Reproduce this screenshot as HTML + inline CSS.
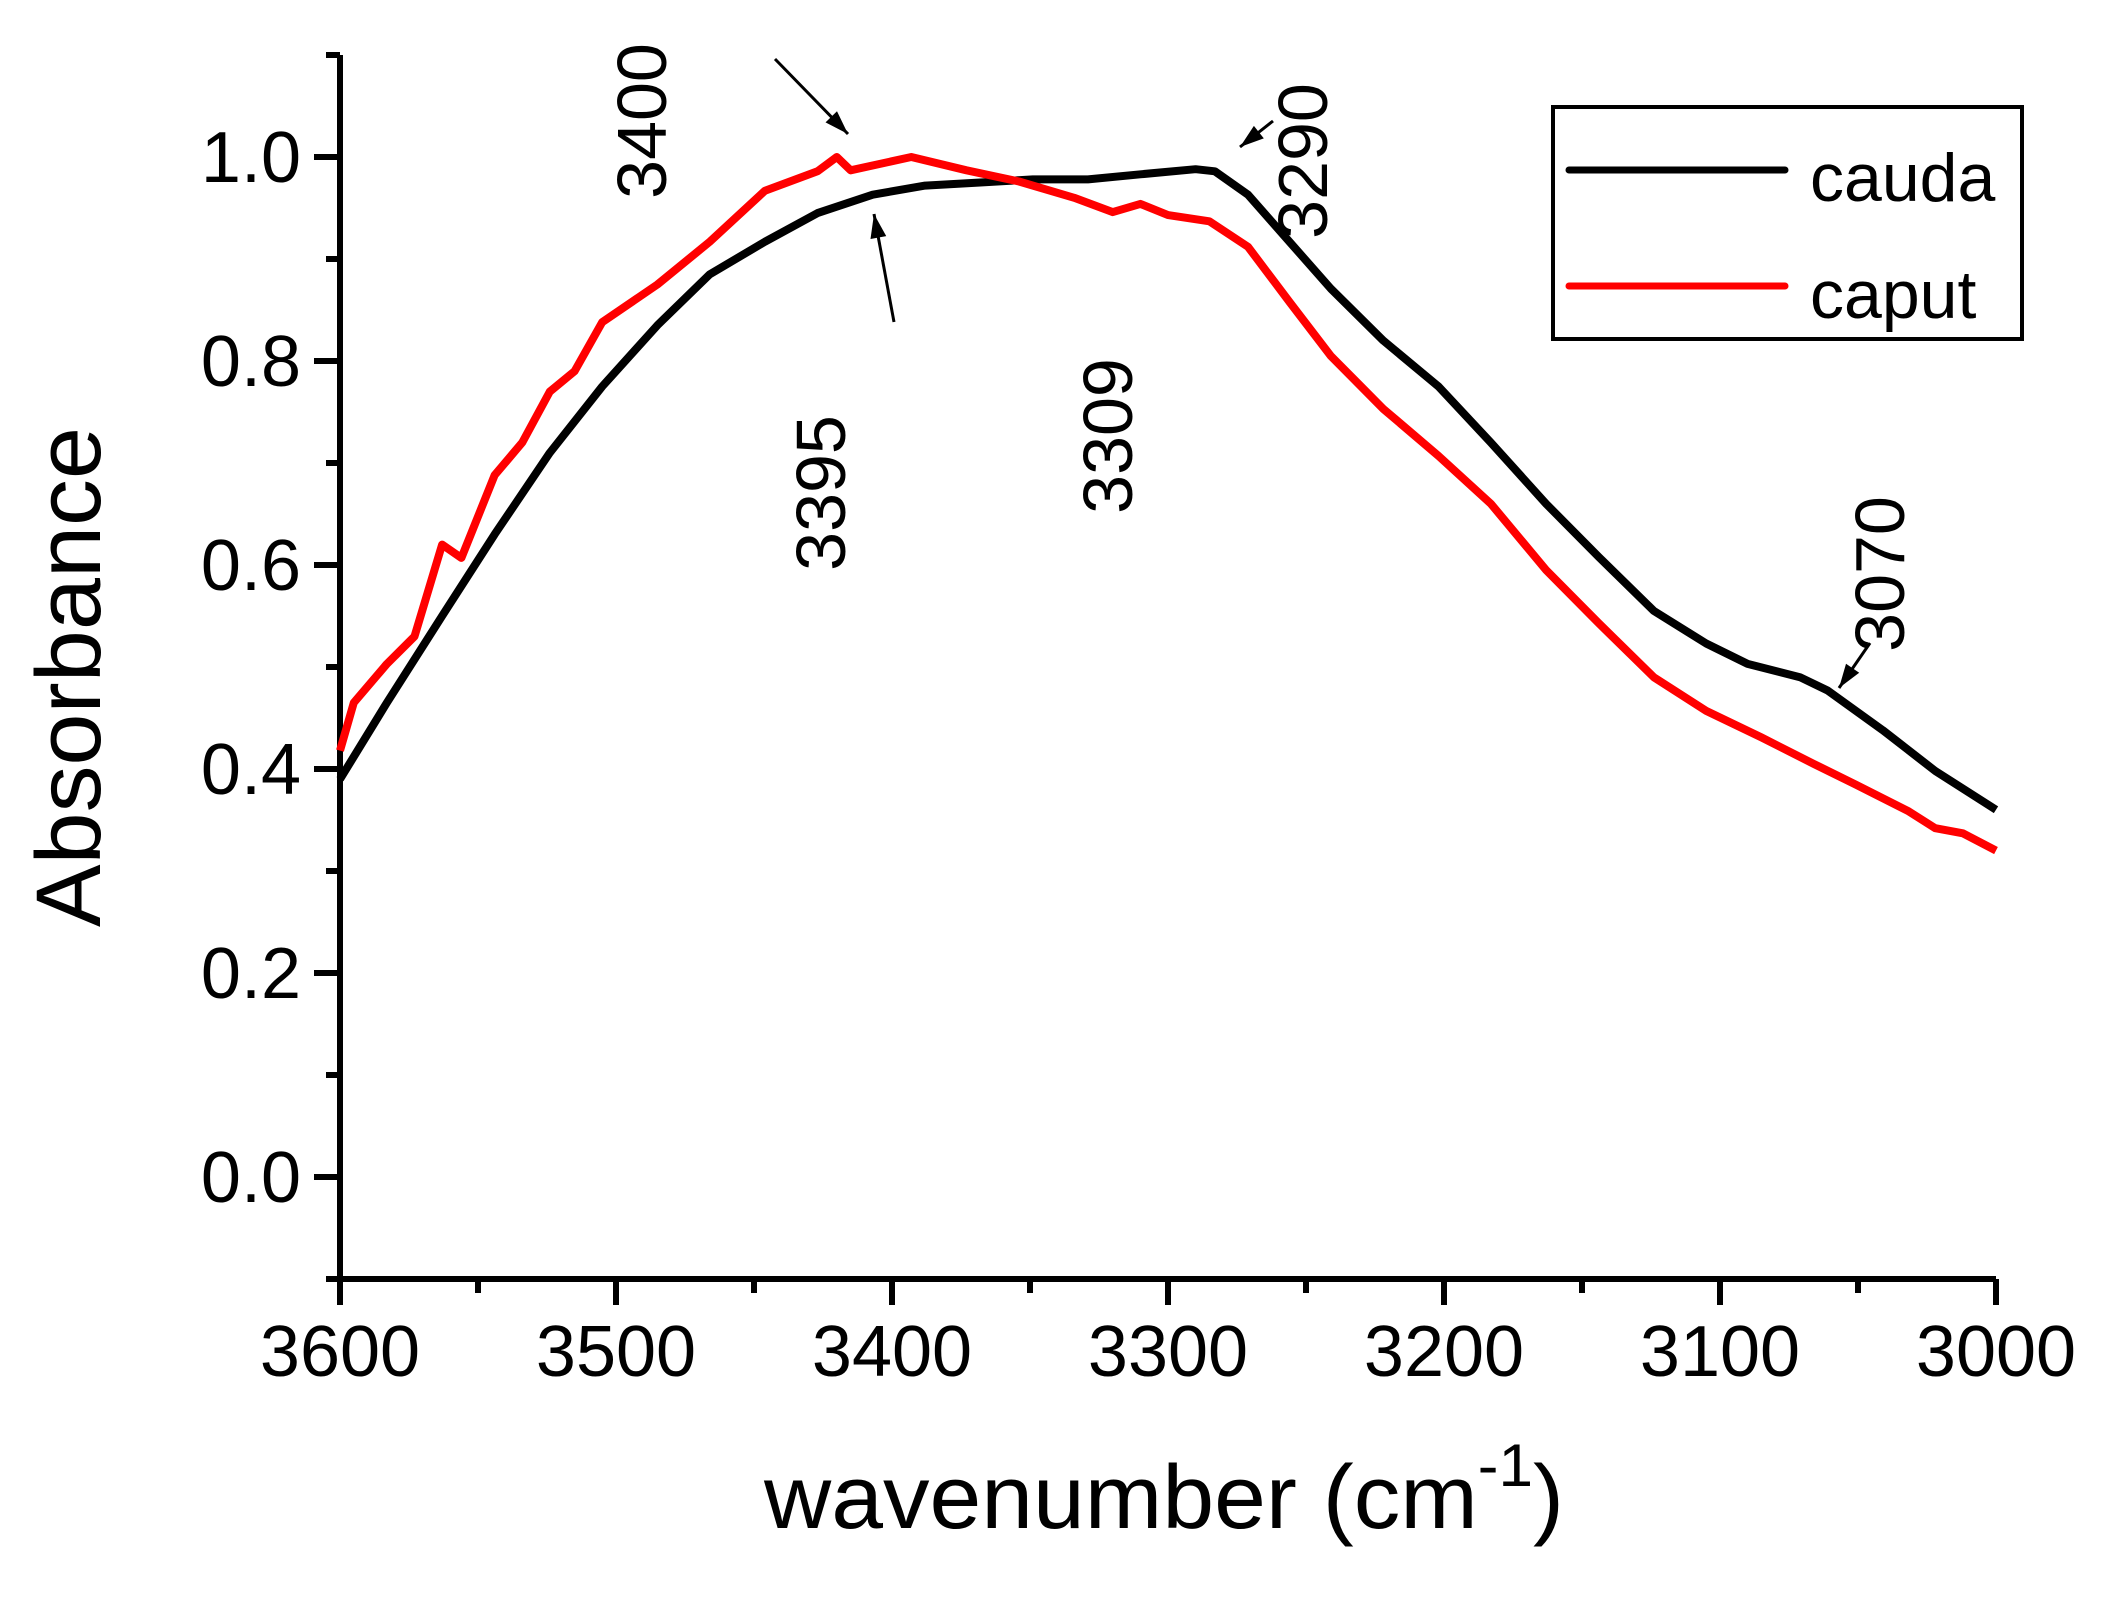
<!DOCTYPE html>
<html><head><meta charset="utf-8"><style>
html,body{margin:0;padding:0;background:#fff;}
svg{display:block;font-family:"Liberation Sans",Arial,sans-serif;}
</style></head><body>
<svg id="chart" width="2101" height="1600" viewBox="0 0 2101 1600" xmlns="http://www.w3.org/2000/svg">
<g id="axes"></g>
<g id="series"></g>
<g id="annotations"></g>
<text transform="translate(100,677) rotate(-90)" text-anchor="middle" font-size="92" textLength="500" lengthAdjust="spacingAndGlyphs">Absorbance</text>
<text x="764" y="1528" font-size="90" textLength="800" lengthAdjust="spacingAndGlyphs">wavenumber (cm<tspan dy="-42" font-size="60">-1</tspan><tspan dy="42">)</tspan></text>
<g>
<rect x="1553" y="107" width="469" height="232" fill="none" stroke="#000" stroke-width="4"/>
<line x1="1569" y1="170" x2="1785" y2="170" stroke="#000" stroke-width="7" stroke-linecap="round"/>
<text x="1810" y="201" font-size="68">cauda</text>
<line x1="1569" y1="286" x2="1785" y2="286" stroke="#f00" stroke-width="7" stroke-linecap="round"/>
<text x="1810" y="318" font-size="68">caput</text>
</g>
</svg>
<script>
const xTicks = [3600, 3500, 3400, 3300, 3200, 3100, 3000];
const xTickLabels = ["3600","3500","3400","3300","3200","3100","3000"];
const yTicks = [0.0, 0.2, 0.4, 0.6, 0.8, 1.0];
const yTickLabels = ["0.0","0.2","0.4","0.6","0.8","1.0"];
const caudaX = [3600,3583,3563,3544,3524,3505,3485,3466,3446,3427,3407,3388,3368,3349,3329,3310,3290,3283,3271,3256,3241,3222,3202,3183,3163,3144,3124,3105,3090,3071,3061,3041,3022,3000];
const caudaY = [0.39,0.465,0.55,0.63,0.71,0.775,0.835,0.885,0.917,0.945,0.963,0.972,0.975,0.978,0.978,0.983,0.988,0.986,0.963,0.917,0.871,0.82,0.775,0.72,0.66,0.608,0.555,0.523,0.503,0.49,0.477,0.438,0.398,0.36];
const caputX = [3600,3595,3583,3573,3563,3556,3544,3534,3524,3515,3505,3485,3466,3446,3427,3420,3415,3393,3373,3354,3334,3320,3310,3300,3285,3271,3256,3241,3222,3202,3183,3163,3144,3124,3105,3085,3066,3051,3032,3022,3012,3000];
const caputY = [0.418,0.465,0.503,0.53,0.62,0.607,0.688,0.72,0.77,0.79,0.838,0.875,0.917,0.967,0.986,1.0,0.987,1.0,0.987,0.976,0.96,0.946,0.954,0.943,0.937,0.912,0.858,0.805,0.753,0.707,0.66,0.595,0.543,0.49,0.457,0.431,0.405,0.385,0.359,0.342,0.337,0.32];
const annLabels = ["3400","3395","3309","3290","3070"];

const NS = "http://www.w3.org/2000/svg";
const X0 = 340, X1 = 1996, YB = 1279, YT = 55;
const xMin = 3600, xMax = 3000, yMin = -0.1, yMax = 1.1;
function sx(v){ return X0 + (v - xMin) / (xMax - xMin) * (X1 - X0); }
function sy(v){ return YB - (v - yMin) / (yMax - yMin) * (YB - YT); }
function mk(tag, attrs, parent){ const e = document.createElementNS(NS, tag); for (const k in attrs) e.setAttribute(k, attrs[k]); parent.appendChild(e); return e; }

const axes = document.getElementById('axes');
let el = mk('line', {x1:X0, y1:YT, x2:X0, y2:YB, stroke:'#000', 'stroke-width':6}, axes);


el = mk('line', {x1:X0-14, y1:YB, x2:X1, y2:YB, stroke:'#000', 'stroke-width':6}, axes);


for (let v = 3600; v >= 3000; v -= 50) {
  const major = (v % 100 === 0);
  el = mk('line', {x1:sx(v), y1:YB, x2:sx(v), y2:YB + (major ? 26 : 14), stroke:'#000', 'stroke-width':6}, axes);
  
  
}
xTicks.forEach((v, i) => {
  el = mk('text', {x:sx(v), y:1376, 'font-size':72, 'text-anchor':'middle'}, axes);
  el.textContent = xTickLabels[i];
  
  
});
for (let k = -1; k <= 11; k++) {
  const v = k / 10;
  const major = (k % 2 === 0 && k >= 0);
  el = mk('line', {x1:X0 - (major ? 26 : 14), y1:sy(v), x2:X0, y2:sy(v), stroke:'#000', 'stroke-width':6}, axes);
  
  
}
yTicks.forEach((v, i) => {
  el = mk('text', {x:301, y:sy(v) + 25, 'font-size':72, 'text-anchor':'end'}, axes);
  el.textContent = yTickLabels[i];
  
  
});

const series = document.getElementById('series');
function path(xs, ys){ return xs.map((x, i) => (i ? 'L' : 'M') + sx(x).toFixed(1) + ',' + sy(ys[i]).toFixed(1)).join(''); }
el = mk('path', {d:path(caudaX, caudaY), fill:'none', stroke:'#000', 'stroke-width':8, 'stroke-linejoin':'round'}, series);


el = mk('path', {d:path(caputX, caputY), fill:'none', stroke:'#f00', 'stroke-width':8, 'stroke-linejoin':'round'}, series);



const ann = document.getElementById('annotations');
const annPos = [[641,121],[820,493],[1107,436],[1302,161],[1879,574]];
annLabels.forEach((t, i) => {
  el = mk('text', {transform:'translate(' + (annPos[i][0] + 25) + ',' + annPos[i][1] + ') rotate(-90)', 'font-size':70, 'text-anchor':'middle'}, ann);
  el.textContent = t;
  
  
});
const arrows = [[775,59,848,134],[894,322,874,214],[1273,121,1240,147],[1870,643,1839,688]];
arrows.forEach((a) => {
  const g = mk('g', {}, ann);
  
  
  mk('line', {x1:a[0], y1:a[1], x2:a[2], y2:a[3], stroke:'#000', 'stroke-width':3}, g);
  const ang = Math.atan2(a[3]-a[1], a[2]-a[0]);
  const L = 24, W = 8;
  const bx = a[2] - L*Math.cos(ang), by = a[3] - L*Math.sin(ang);
  const px = -Math.sin(ang)*W, py = Math.cos(ang)*W;
  mk('polygon', {points: a[2]+','+a[3]+' '+(bx+px)+','+(by+py)+' '+(bx-px)+','+(by-py), fill:'#000'}, g);
});
</script>
</body></html>
